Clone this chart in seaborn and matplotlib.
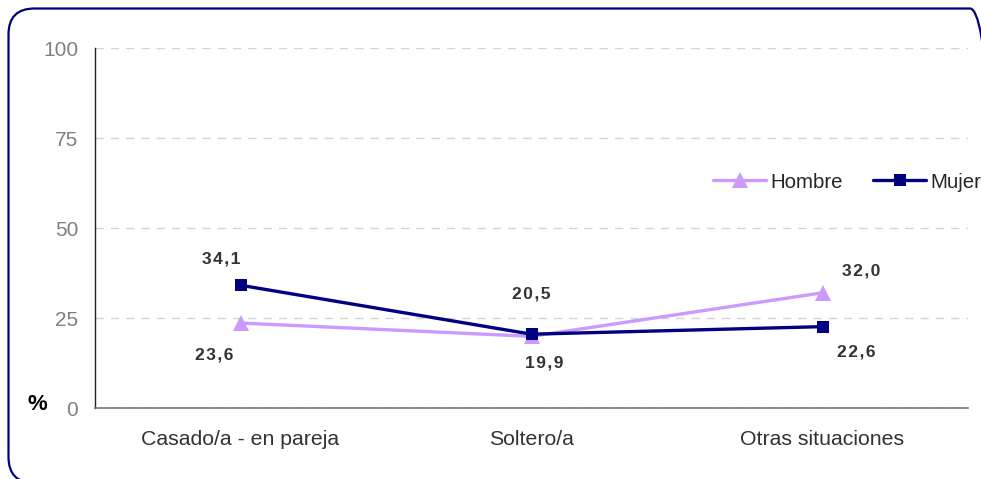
import matplotlib
matplotlib.use("Agg")
import matplotlib.pyplot as plt
from matplotlib.patches import FancyBboxPatch
import seaborn as sns
import pandas as pd
import numpy as np

# data
categories = ["Casado/a - en pareja", "Soltero/a", "Otras situaciones"]
hombre = [23.6, 19.9, 32.0]
mujer = [34.1, 20.5, 22.6]
series_names = ["Hombre", "Mujer"]
y_ticks = [0, 25, 50, 75, 100]

# label offsets (points), per series, per category
offsets = {
    "Hombre": [(-19, -23), (9, -19), (28, 16)],
    "Mujer": [(-14, 19), (0, 29), (24, -18)],
}

colors = {"Hombre": "#CC99FF", "Mujer": "#000080"}

pos = np.arange(len(categories))
df = pd.DataFrame({
    "pos": np.concatenate([pos, pos]),
    "valor": hombre + mujer,
    "sexo": [series_names[0]] * len(hombre) + [series_names[1]] * len(mujer),
})

sns.set_style("white")
plt.rcParams["font.family"] = ["Liberation Sans", "DejaVu Sans"]

fig = plt.figure(figsize=(9.81, 4.79), dpi=100)
ax = fig.add_axes([95 / 981, 1 - 408 / 479, (968 - 95) / 981, (408 - 48) / 479])

# rounded frame around the whole chart (pixel coords), cut off right/bottom
frame = FancyBboxPatch((8.5, -4), 996 - 8.5, 479 - 8.5 + 4,
                       boxstyle="round,pad=0,rounding_size=26",
                       transform=None, fill=False, edgecolor="#000080",
                       linewidth=1.6, zorder=-5)
fig.patches.append(frame)

sns.lineplot(data=df, x="pos", y="valor", hue="sexo", style="sexo",
             palette=colors, markers={"Hombre": "^", "Mujer": "s"},
             dashes=False, linewidth=2.4, markersize=9,
             markeredgewidth=0, sort=False, ax=ax)
for ln in ax.lines:
    if ln.get_marker() == "^":
        ln.set_markersize(11)


def spaced(v):
    # reference labels are drawn with a little letter spacing
    return "\u200a".join(f"{v:.1f}".replace(".", ","))


for name, vals in [("Hombre", hombre), ("Mujer", mujer)]:
    for i, v in enumerate(vals):
        ax.annotate(spaced(v), (pos[i], v),
                    xytext=offsets[name][i], textcoords="offset points",
                    ha="center", va="center", fontsize=12.5,
                    fontweight="bold", color="#333333")

ax.set_xlim(-0.5, len(categories) - 0.5)
ax.set_ylim(0, 100)
ax.set_yticks(y_ticks)
ax.set_yticklabels([str(t) for t in y_ticks], fontsize=15, color="#808080")
ax.set_xticks(pos)
ax.set_xticklabels(categories, fontsize=15.3, color="#333333")
ax.set_xticks(np.arange(len(categories) + 1) - 0.5, minor=True)
ax.tick_params(axis="x", which="major", length=0, pad=16)
ax.tick_params(axis="x", which="minor", direction="out", length=5,
               width=1, color="#555555")
ax.tick_params(axis="y", direction="out", length=6, width=1,
               color="#555555", pad=6)
ax.set_xlabel("")
ax.set_ylabel("")

ax.grid(axis="y", linestyle=(0, (6, 5)), color="#D4D4D4", linewidth=1)
ax.set_axisbelow(True)
for s in ["top", "right"]:
    ax.spines[s].set_visible(False)
ax.spines["left"].set_color("#222222")
ax.spines["bottom"].set_color("#777777")
ax.spines["left"].set_linewidth(1)
ax.spines["bottom"].set_linewidth(1.2)

fig.text(28 / 981, 1 - 404 / 479, "%", fontsize=16, fontweight="bold",
         color="black", va="center", ha="left")

handles, labels = ax.get_legend_handles_labels()
for h in handles:
    if h.get_marker() == "^":
        h.set_markersize(11)
ax.legend(handles, labels, ncol=2, loc="center left",
          bbox_to_anchor=(713 / 981, 1 - 182 / 479),
          bbox_transform=fig.transFigure, frameon=False, fontsize=14.7,
          handlelength=2.6, handletextpad=0.2, columnspacing=1.5,
          borderpad=0, borderaxespad=0)

fig.savefig("out.png", dpi=100)
